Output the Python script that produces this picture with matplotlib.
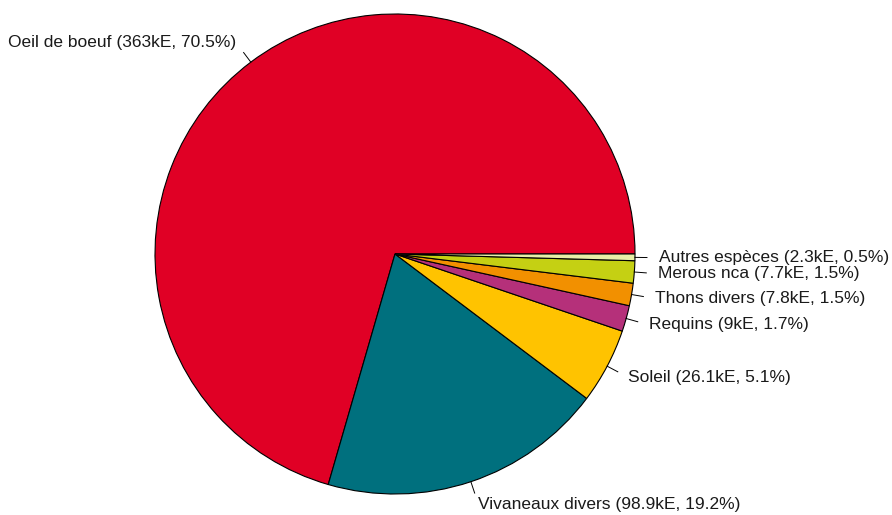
import numpy as np
import matplotlib
matplotlib.use("Agg")
import matplotlib.pyplot as plt

species = ["Oeil de boeuf", "Vivaneaux divers", "Soleil", "Requins",
           "Thons divers", "Merous nca", "Autres espèces"]
values_ke = [363, 98.9, 26.1, 9, 7.8, 7.7, 2.3]
percents = [70.5, 19.2, 5.1, 1.7, 1.5, 1.5, 0.5]
colors = ["#E00025", "#00707E", "#FFC300", "#B5307A",
          "#F29000", "#C5D013", "#E8EFA8"]

plt.rcParams["font.family"] = ["Liberation Sans", "DejaVu Sans"]

W, H = 892, 515
fig = plt.figure(figsize=(W / 100, H / 100), dpi=100)
ax = fig.add_axes([0, 0, 1, 1])

center = (395, H - 254)
radius = 240

labels = [f"{s} ({v:g}kE, {p:g}%)" for s, v, p in zip(species, values_ke, percents)]

wedges, _ = ax.pie(
    values_ke,
    colors=colors,
    startangle=0,
    counterclock=True,
    center=center,
    radius=radius,
    wedgeprops=dict(edgecolor="black", linewidth=0.8),
)

# tick lines from the rim and labels, like R's pie()
for w, lab in zip(wedges, labels):
    mid = np.deg2rad((w.theta1 + w.theta2) / 2)
    c, s = np.cos(mid), np.sin(mid)
    ax.plot([center[0] + radius * c, center[0] + 1.05 * radius * c],
            [center[1] + radius * s, center[1] + 1.05 * radius * s],
            color="black", lw=0.7)
    ax.text(center[0] + 1.1 * radius * c, center[1] + 1.1 * radius * s, lab,
            ha="left" if c > 0 else "right", va="center",
            fontsize=12.5, color="#1a1a1a")

ax.set_xlim(0, W)
ax.set_ylim(0, H)
ax.set_aspect("equal")
ax.axis("off")

fig.savefig("out.png", dpi=100)
